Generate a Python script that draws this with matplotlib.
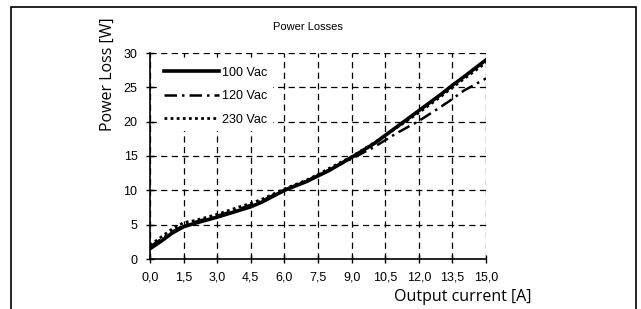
import matplotlib
matplotlib.use("Agg")
import matplotlib.pyplot as plt
from matplotlib.patches import Rectangle

current = [0, 0.5, 1, 1.5, 2, 3, 4, 4.5, 5, 6, 7, 7.5, 8, 9, 10, 10.5, 11, 12, 13, 13.5, 14, 15]
loss_100 = [1.5, 2.6, 3.8, 4.7, 5.2, 6.1, 7.1, 7.6, 8.3, 10.0, 11.3, 12.1, 12.9, 14.8, 16.8, 18.0, 19.2, 21.6, 24.0, 25.3, 26.5, 29.0]
loss_120 = [1.8, 2.9, 4.0, 4.9, 5.4, 6.3, 7.3, 7.9, 8.5, 10.1, 11.4, 12.2, 13.0, 14.6, 16.3, 17.3, 18.3, 20.1, 22.2, 23.3, 24.5, 26.3]
loss_230 = [2.0, 3.2, 4.4, 5.3, 5.6, 6.5, 7.6, 8.1, 8.7, 10.2, 11.5, 12.3, 13.2, 14.9, 16.9, 18.0, 19.1, 21.3, 23.7, 25.0, 26.2, 28.6]
xticks = [0, 1.5, 3, 4.5, 6, 7.5, 9, 10.5, 12, 13.5, 15]
xtick_labels = ["0,0", "1,5", "3,0", "4,5", "6,0", "7,5", "9,0", "10,5", "12,0", "13,5", "15,0"]
yticks = [0, 5, 10, 15, 20, 25, 30]

narrow = ["Liberation Sans Narrow", "Liberation Sans", "DejaVu Sans"]
label_font = ["Open Sans", "DejaVu Sans"]

fig = plt.figure(figsize=(6.41, 3.09), dpi=100)
fig.patches.append(Rectangle((11/641, -0.2), 625/641, 1.2 - 7/309, transform=fig.transFigure,
                             fill=False, edgecolor="black", linewidth=1.2))
ax = fig.add_axes([150/641, 1 - 259/309, 336/641, 206/309])

ax.plot(current, loss_100, color="black", lw=2.6, ls="-", label="100 Vac", zorder=4)
ax.plot(current, loss_120, color="black", lw=1.8, ls=(0, (5, 2, 1, 2)), label="120 Vac", zorder=3)
ax.plot(current, loss_230, color="black", lw=2.0, ls=(0, (1, 1.2)), label="230 Vac", zorder=3)

ax.set_xlim(0, 15)
ax.set_ylim(0, 30)
ax.set_xticks(xticks)
ax.set_xticklabels(xtick_labels)
ax.set_yticks(yticks)
for lab in ax.get_xticklabels() + ax.get_yticklabels():
    lab.set_family(narrow)
    lab.set_fontsize(9)
ax.tick_params(direction="inout", length=6, width=1, pad=6)

ax.grid(True, color="black", ls=(0, (5, 3.5)), lw=0.9)
ax.set_axisbelow(True)
for s in ["top", "right"]:
    ax.spines[s].set_visible(False)
ax.spines["left"].set_linewidth(1.2)
ax.spines["bottom"].set_linewidth(1.2)

leg = ax.legend(loc="upper left", frameon=True, fancybox=False, edgecolor="none",
                handlelength=4.4, handletextpad=0.3, labelspacing=0.92,
                borderaxespad=0.7, prop={"family": narrow, "size": 9})
leg.get_frame().set_facecolor("white")
leg.get_frame().set_alpha(1)

fig.text(308/641, 1 - 27/309, "Power Losses", ha="center", va="center",
         family=narrow, fontsize=8)
fig.text(108/641, 1 - 74/309, "Power Loss [W]", rotation=90, ha="center", va="center",
         family=label_font, fontsize=11.5)
fig.text(463/641, 1 - 297/309, "Output current [A]", ha="center", va="center",
         family=label_font, fontsize=11.5)

fig.savefig("out.png", dpi=100)
